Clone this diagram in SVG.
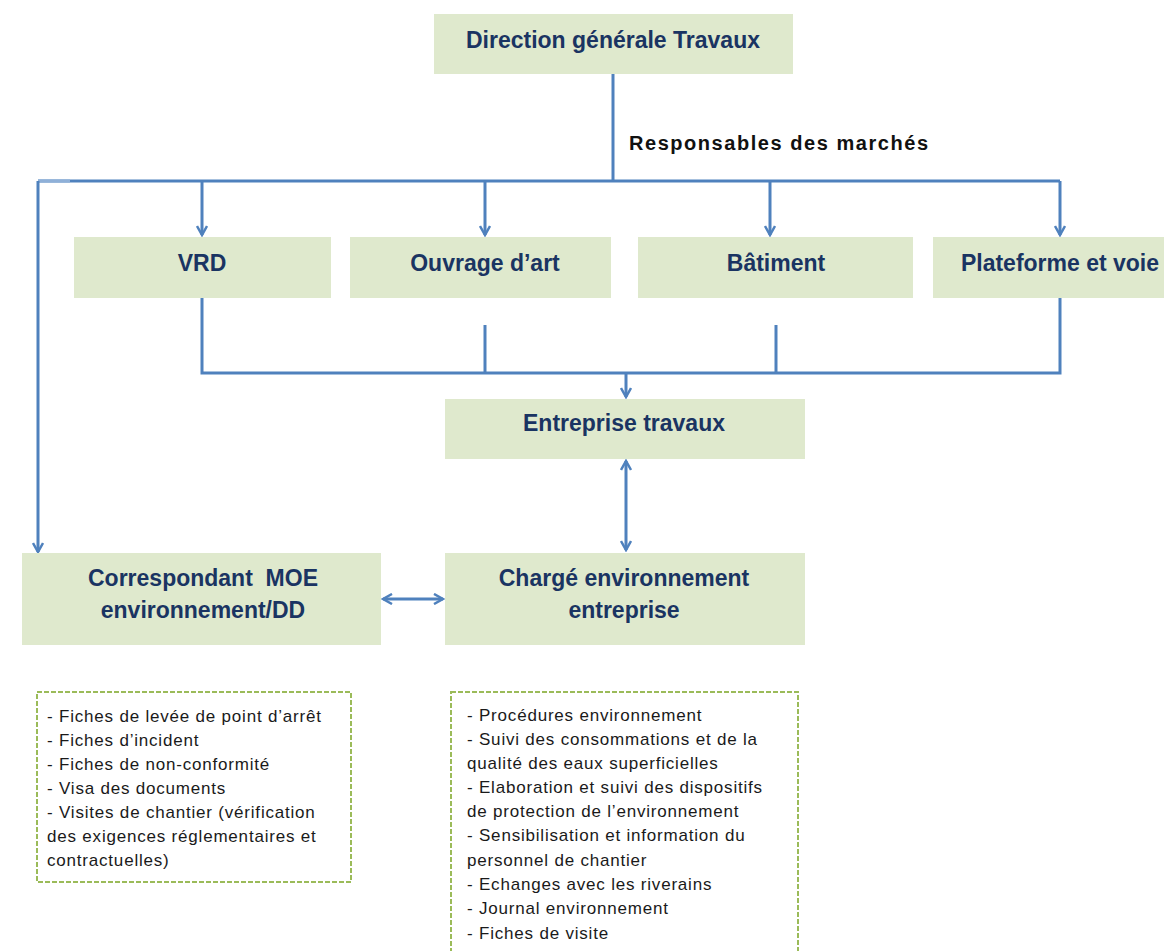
<svg xmlns="http://www.w3.org/2000/svg" width="1164" height="951" viewBox="0 0 1164 951">
<defs>
<style>
.box{fill:#dfe9cd}
.t{font-family:"Liberation Sans",Arial,sans-serif;font-weight:bold;font-size:23px;fill:#1a3462;text-anchor:middle}
.c{stroke:#4f81bd;stroke-width:3;fill:none}
.d{fill:#fff;stroke:#9bbb59;stroke-width:2;stroke-dasharray:5 2}
.l{font-family:"Liberation Sans",Arial,sans-serif;font-size:17px;letter-spacing:0.8px;fill:#1a1a1a}
</style>
<marker id="ah" viewBox="0 0 12 12" refX="10" refY="6" markerWidth="12" markerHeight="12" markerUnits="userSpaceOnUse" orient="auto-start-reverse">
<path d="M1,1 L10,6 L1,11" fill="none" stroke="#4f81bd" stroke-width="2.5"/>
</marker>
</defs>
<rect width="1164" height="951" fill="#fff"/>
<g id="connectors">
<path class="c" d="M613,74 V181"/>
<path class="c" d="M38,181 H1060"/>
<path d="M38,181 H70" stroke="#8fb0d8" stroke-width="3"/>
<path class="c" d="M38,181 V552" marker-end="url(#ah)"/>
<path class="c" d="M202,181 V235" marker-end="url(#ah)"/>
<path class="c" d="M485,181 V235" marker-end="url(#ah)"/>
<path class="c" d="M770,181 V235" marker-end="url(#ah)"/>
<path class="c" d="M1060,181 V235" marker-end="url(#ah)"/>
<path class="c" d="M202,298 V373 H1060 V298"/>
<path class="c" d="M485,325 V373"/>
<path class="c" d="M776,325 V373"/>
<path class="c" d="M626,373 V397" marker-end="url(#ah)"/>
<path class="c" d="M626,461 V550" marker-start="url(#ah)" marker-end="url(#ah)"/>
<path class="c" d="M383,599 H443" marker-start="url(#ah)" marker-end="url(#ah)"/>
</g>
<text x="629" y="150" font-family="'Liberation Sans',Arial,sans-serif" font-weight="bold" font-size="20" fill="#111" textLength="299">Responsables des marchés</text>
<g id="direction"><rect class="box" x="434" y="14" width="359" height="60"/><text class="t" x="613" y="48">Direction générale Travaux</text></g>
<g id="vrd"><rect class="box" x="74" y="237" width="257" height="61"/><text class="t" x="202" y="271">VRD</text></g>
<g id="ouvrage"><rect class="box" x="350" y="237" width="261" height="61"/><text class="t" x="485" y="271">Ouvrage d’art</text></g>
<g id="batiment"><rect class="box" x="638" y="237" width="275" height="61"/><text class="t" x="776" y="271">Bâtiment</text></g>
<g id="plateforme"><rect class="box" x="933" y="237" width="231" height="61"/><text class="t" x="1060" y="271">Plateforme et voie</text></g>
<g id="entreprise"><rect class="box" x="445" y="399" width="360" height="60"/><text class="t" x="624" y="431">Entreprise travaux</text></g>
<g id="correspondant"><rect class="box" x="22" y="553" width="359" height="92"/><text class="t" x="203" y="586" xml:space="preserve">Correspondant  MOE</text><text class="t" x="203" y="618">environnement/DD</text></g>
<g id="charge"><rect class="box" x="445" y="553" width="360" height="92"/><text class="t" x="624" y="586">Chargé environnement</text><text class="t" x="624" y="618">entreprise</text></g>
<g id="liste-moe"><rect class="d" x="37" y="692" width="314" height="190"/>
<text class="l" x="47" y="722">- Fiches de levée de point d’arrêt</text>
<text class="l" x="47" y="746">- Fiches d’incident</text>
<text class="l" x="47" y="770">- Fiches de non-conformité</text>
<text class="l" x="47" y="794">- Visa des documents</text>
<text class="l" x="47" y="818">- Visites de chantier (vérification</text>
<text class="l" x="47" y="842">des exigences réglementaires et</text>
<text class="l" x="47" y="866">contractuelles)</text>
</g>
<g id="liste-entreprise"><rect class="d" x="451" y="692" width="347" height="270"/>
<text class="l" x="467" y="721">- Procédures environnement</text>
<text class="l" x="467" y="745">- Suivi des consommations et de la</text>
<text class="l" x="467" y="769">qualité des eaux superficielles</text>
<text class="l" x="467" y="793">- Elaboration et suivi des dispositifs</text>
<text class="l" x="467" y="817">de protection de l’environnement</text>
<text class="l" x="467" y="841">- Sensibilisation et information du</text>
<text class="l" x="467" y="866">personnel de chantier</text>
<text class="l" x="467" y="890">- Echanges avec les riverains</text>
<text class="l" x="467" y="914">- Journal environnement</text>
<text class="l" x="467" y="939">- Fiches de visite</text>
</g>
</svg>
